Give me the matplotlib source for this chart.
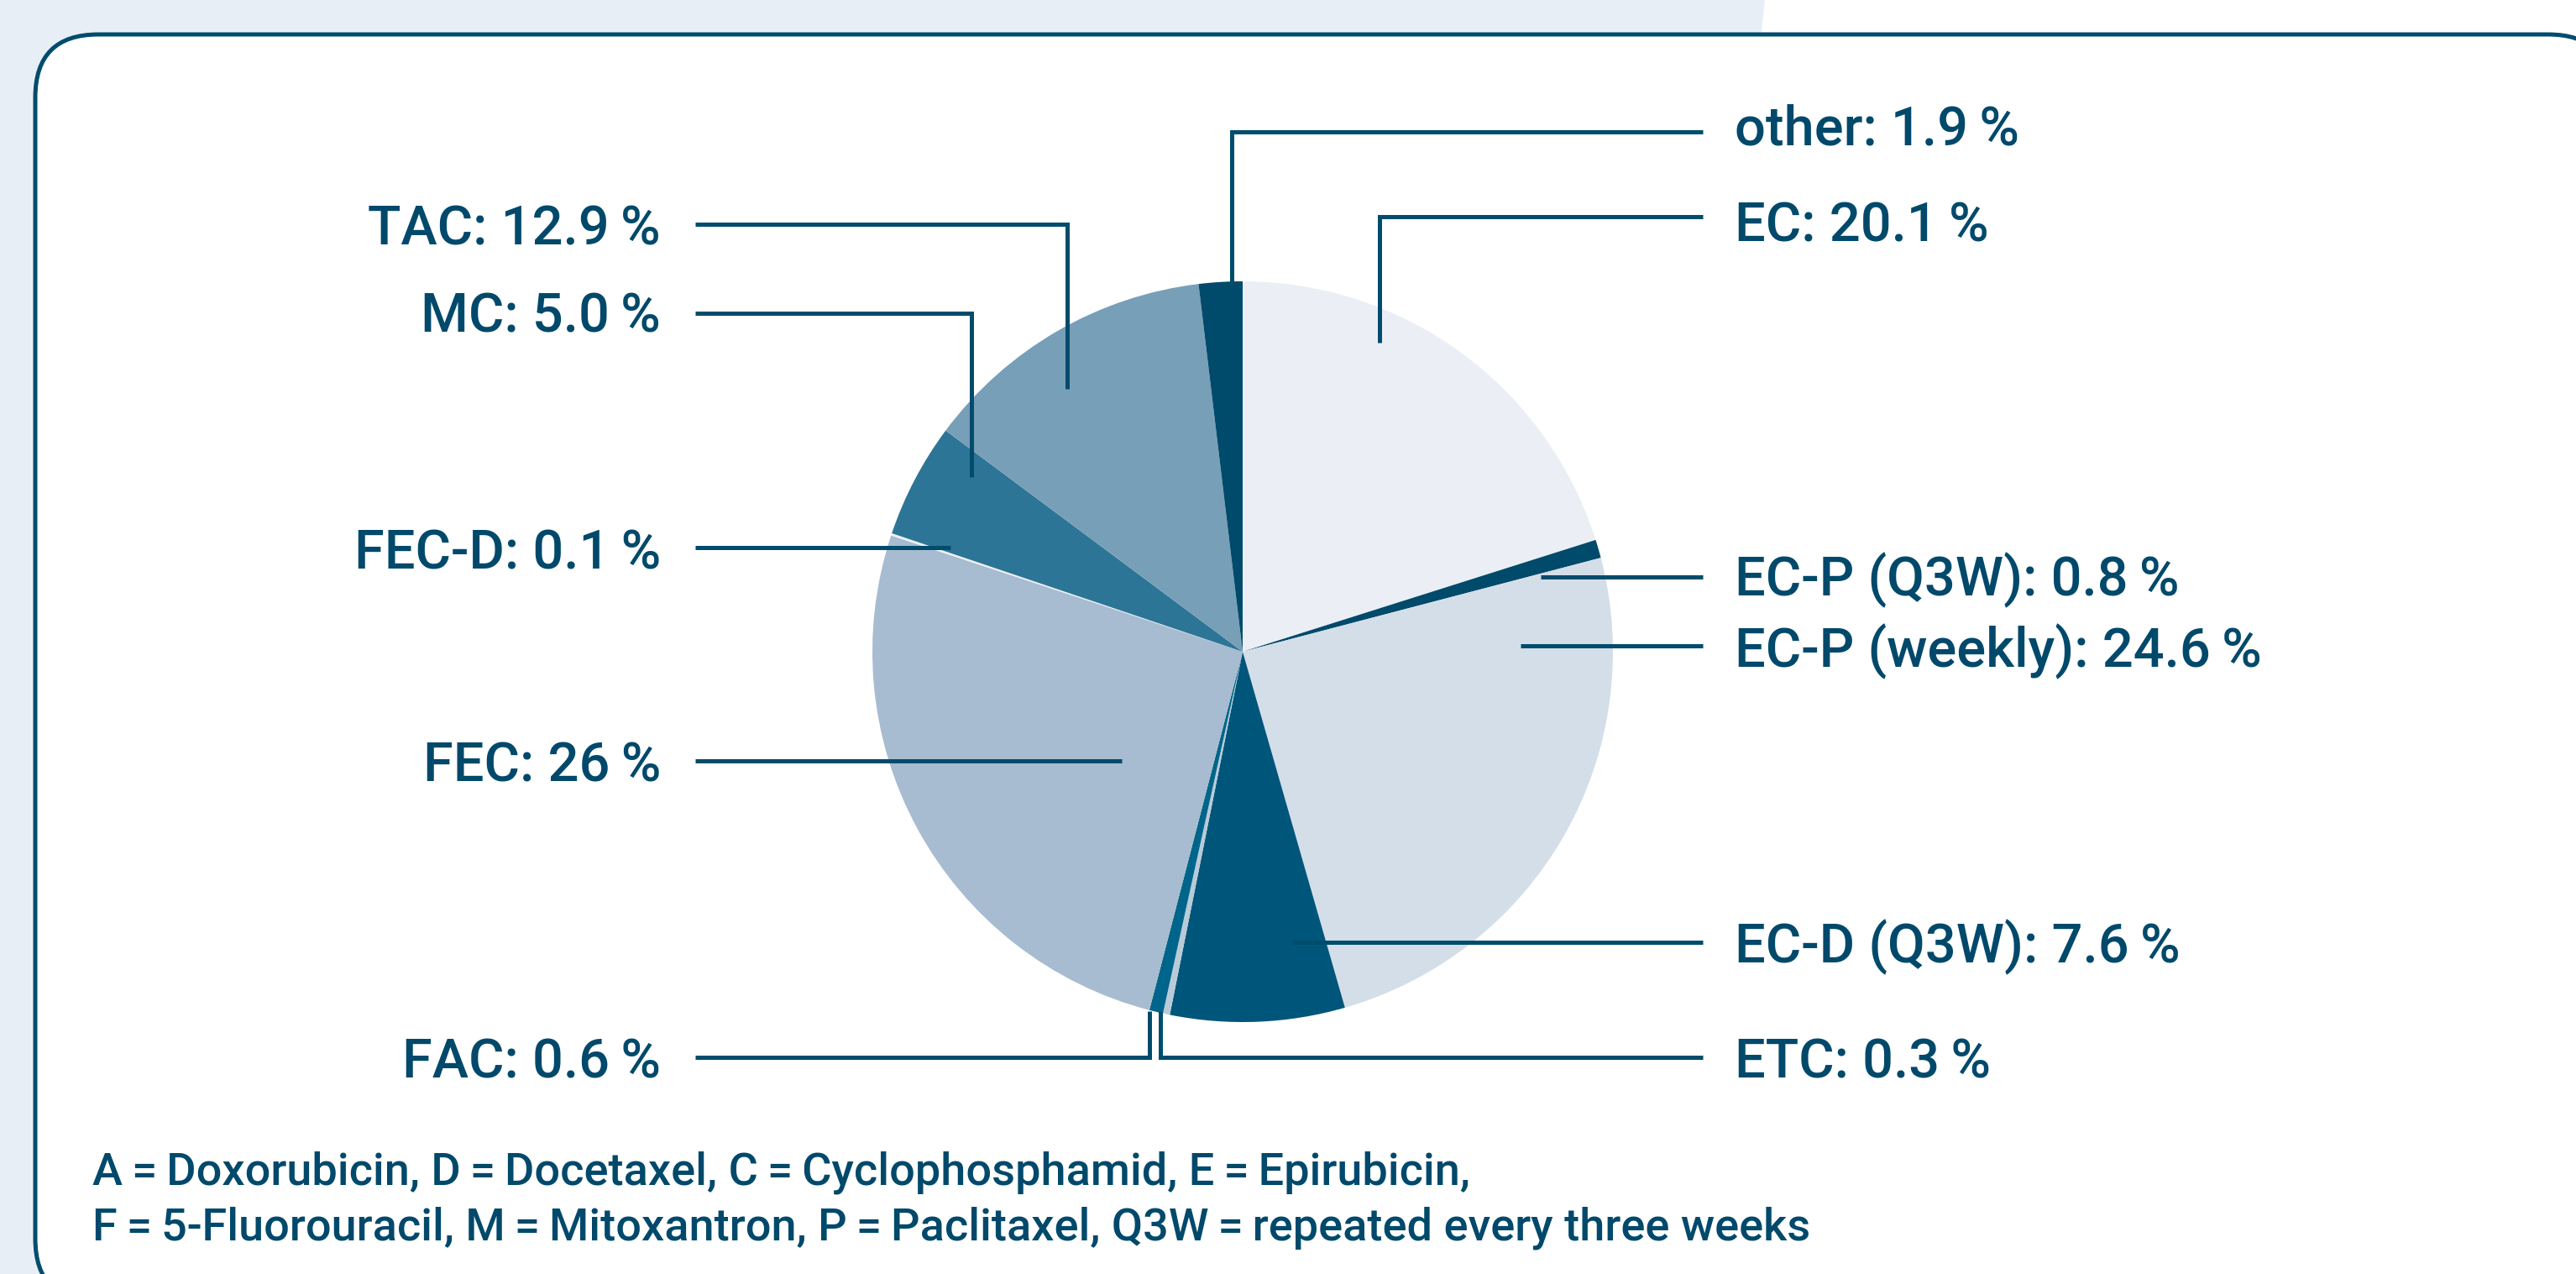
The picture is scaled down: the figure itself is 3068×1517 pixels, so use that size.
import matplotlib
matplotlib.use('Agg')
import matplotlib.pyplot as plt
from matplotlib.patches import FancyBboxPatch, Polygon

# ---------------- data ----------------
regimens = ['EC', 'EC-P (Q3W)', 'EC-P (weekly)', 'EC-D (Q3W)', 'ETC', 'FAC',
            'FEC', 'FEC-D', 'MC', 'TAC', 'other']
shares = [20.1, 0.8, 24.6, 7.6, 0.3, 0.6, 26.0, 0.1, 5.0, 12.9, 1.9]
share_text = ['20.1', '0.8', '24.6', '7.6', '0.3', '0.6', '26', '0.1', '5.0', '12.9', '1.9']
slice_colors = ['#ebeff5', '#004a6b', '#d4dee8', '#00567a', '#b9cbd9', '#00658a',
                '#a7bcd0', '#eef1f5', '#2d7596', '#789fb8', '#004a6b']
footnote_lines = [
    'A\u2009=\u2009Doxorubicin, D\u2009=\u2009Docetaxel, C\u2009=\u2009Cyclophosphamid, E\u2009=\u2009Epirubicin,',
    'F\u2009=\u20095-Fluorouracil, M\u2009=\u2009Mitoxantron, P\u2009=\u2009Paclitaxel, Q3W\u2009=\u2009repeated every three weeks',
]

# ---------------- layout (pixel coords, y from top) ----------------
W, H = 3068, 1517
DPI = 100
DARK = '#004c6d'
TEXT = '#00496b'
FAMILY = ['Roboto', 'DejaVu Sans']

RIGHT_TX, RIGHT_LX = 2066, 2028
LEFT_TX, LEFT_LX = 787, 828
layout = {
    'other':         ('R', 172,  [(RIGHT_LX, 157), (1467, 157), (1467, 338)]),
    'EC':            ('R', 287,  [(RIGHT_LX, 258), (1643, 258), (1643, 408)]),
    'EC-P (Q3W)':    ('R', 709,  [(RIGHT_LX, 687), (1835, 687)]),
    'EC-P (weekly)': ('R', 794,  [(RIGHT_LX, 769), (1811, 769)]),
    'EC-D (Q3W)':    ('R', 1146, [(RIGHT_LX, 1122), (1539, 1122)]),
    'ETC':           ('R', 1283, [(RIGHT_LX, 1259), (1382, 1259), (1382, 1204)]),
    'FAC':           ('L', 1283, [(LEFT_LX, 1259), (1369, 1259), (1369, 1204)]),
    'FEC':           ('L', 930,  [(LEFT_LX, 906), (1336, 906)]),
    'FEC-D':         ('L', 677,  [(LEFT_LX, 652), (1132, 652)]),
    'MC':            ('L', 395,  [(LEFT_LX, 373), (1157, 373), (1157, 568)]),
    'TAC':           ('L', 291,  [(LEFT_LX, 267), (1271, 267), (1271, 463)]),
}

fig = plt.figure(figsize=(W / DPI, H / DPI), dpi=DPI, facecolor='white')
ax = fig.add_axes([0, 0, 1, 1])
ax.set_xlim(0, W)
ax.set_ylim(0, H)
ax.set_axis_off()

def Y(y):
    return H - y

# background band
ax.add_patch(Polygon([(0, Y(0)), (2102, Y(0)), (1935, Y(H)), (0, Y(H))],
                     closed=True, fc='#e8eef6', ec='none', zorder=0))
# rounded frame
ax.add_patch(FancyBboxPatch((42, Y(1550)), 3110 - 42, 1550 - 41,
                            boxstyle='round,pad=0,rounding_size=75',
                            fc='white', ec=DARK, lw=3.6, zorder=0.5))

# pie
ax.pie(shares, colors=slice_colors, startangle=90, counterclock=False,
       radius=441, center=(1480, Y(776)), frame=True,
       wedgeprops=dict(linewidth=0, antialiased=True))
ax.set_xlim(0, W)
ax.set_ylim(0, H)
ax.set_axis_off()

# labels + leader lines
for name, val in zip(regimens, share_text):
    side, base, path = layout[name]
    xs = [p[0] for p in path]
    ys = [Y(p[1]) for p in path]
    ax.plot(xs, ys, color=DARK, lw=3.6, solid_capstyle='butt',
            solid_joinstyle='miter', zorder=3)
    label = f'{name}: {val}\u2009%'
    if side == 'R':
        ax.text(RIGHT_TX, Y(base), label, ha='left', va='baseline',
                fontsize=46.8, color=TEXT, family=FAMILY, fontweight='medium', zorder=4)
    else:
        ax.text(LEFT_TX, Y(base), label, ha='right', va='baseline',
                fontsize=46.8, color=TEXT, family=FAMILY, fontweight='medium', zorder=4)

# footnote
for i, line in enumerate(footnote_lines):
    ax.text(110, Y(1410 + 67 * i), line, ha='left', va='baseline',
            fontsize=39, color=TEXT, family=FAMILY, fontweight='medium', zorder=4)

fig.savefig('out.png', dpi=DPI, facecolor='white')
